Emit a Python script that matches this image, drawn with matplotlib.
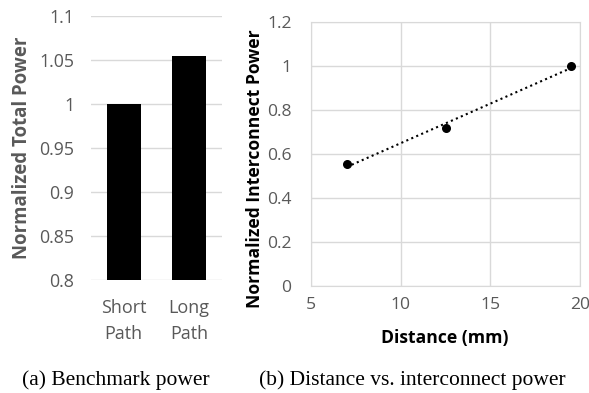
import numpy as np
import matplotlib
matplotlib.use("Agg")
from matplotlib import pyplot as plt

# left panel: benchmark power
paths = ["Short\nPath", "Long\nPath"]
total_power = [1.0, 1.054]

# right panel: distance vs interconnect power
distance = [7, 12.5, 19.5]
ic_power = [0.553, 0.718, 1.0]

plt.rcParams["font.family"] = ["Open Sans", "DejaVu Sans"]
grey = "#595959"
gridc = "#d9d9d9"
W, H = 589, 393

fig = plt.figure(figsize=(5.89, 3.93), dpi=100)
ax1 = fig.add_axes([91 / W, 1 - 280 / H, 131 / W, 264 / H])
ax2 = fig.add_axes([311 / W, 1 - 286 / H, 269 / W, 264 / H])

# bars
ax1.bar(range(len(paths)), total_power, width=0.52, color="black", zorder=3)
ax1.set_ylim(0.8, 1.1)
ax1.set_xlim(-0.5, 1.5)
ax1.set_yticks(np.arange(0.8, 1.101, 0.05))
ax1.set_yticklabels(["0.8", "0.85", "0.9", "0.95", "1", "1.05", "1.1"])
ax1.set_xticks(range(len(paths)))
ax1.set_xticklabels(paths, linespacing=1.55, fontsize=13)
ax1.grid(axis="y", color=gridc, lw=1, zorder=0)
for s in ax1.spines.values():
    s.set_visible(False)
ax1.tick_params(axis="y", length=0, labelsize=12.8, colors=grey, pad=12)
ax1.tick_params(axis="x", length=0, colors=grey, pad=14)
ax1.set_ylabel("Normalized Total Power", fontsize=13.4, fontweight="bold",
               color=grey, va="center")
ax1.yaxis.set_label_coords((22 - 91) / 131, 0.5)

# scatter with linear trendline
ax2.scatter(distance, ic_power, s=30, color="black", zorder=4)
k, b = np.polyfit(distance, ic_power, 1)
xt = np.array([distance[0], distance[-1]])
ax2.plot(xt, k * xt + b, color="black", ls=(0, (1, 1.6)), lw=1.5, zorder=3)
ax2.set_xlim(5, 20)
ax2.set_ylim(0, 1.2)
ax2.set_xticks([5, 10, 15, 20])
ax2.set_yticks(np.arange(0, 1.21, 0.2))
ax2.set_yticklabels(["0", "0.2", "0.4", "0.6", "0.8", "1", "1.2"])
ax2.grid(color=gridc, lw=1, zorder=0)
for s in ax2.spines.values():
    s.set_color(gridc)
ax2.tick_params(axis="y", length=0, labelsize=12.6, colors=grey, pad=14)
ax2.tick_params(axis="x", length=0, labelsize=12.6, colors=grey, pad=8)
ax2.set_ylabel("Normalized Interconnect Power", fontsize=12.6,
               fontweight="bold", color="black", va="center")
ax2.yaxis.set_label_coords((255 - 311) / 269, (286 - 169) / 264)
ax2.set_xlabel("Distance (mm)", fontsize=12.6, fontweight="bold",
               color="black", va="center")
ax2.xaxis.set_label_coords((445 - 311) / 269, (286 - 338) / 264)

# captions
fig.text(116 / W, 1 - 380 / H, "(a) Benchmark power", ha="center",
         va="center", family="Liberation Serif", fontsize=15.5)
fig.text(412 / W, 1 - 380 / H, "(b) Distance vs. interconnect power",
         ha="center", va="center", family="Liberation Serif", fontsize=15.5)

fig.savefig("out.png", dpi=100)
